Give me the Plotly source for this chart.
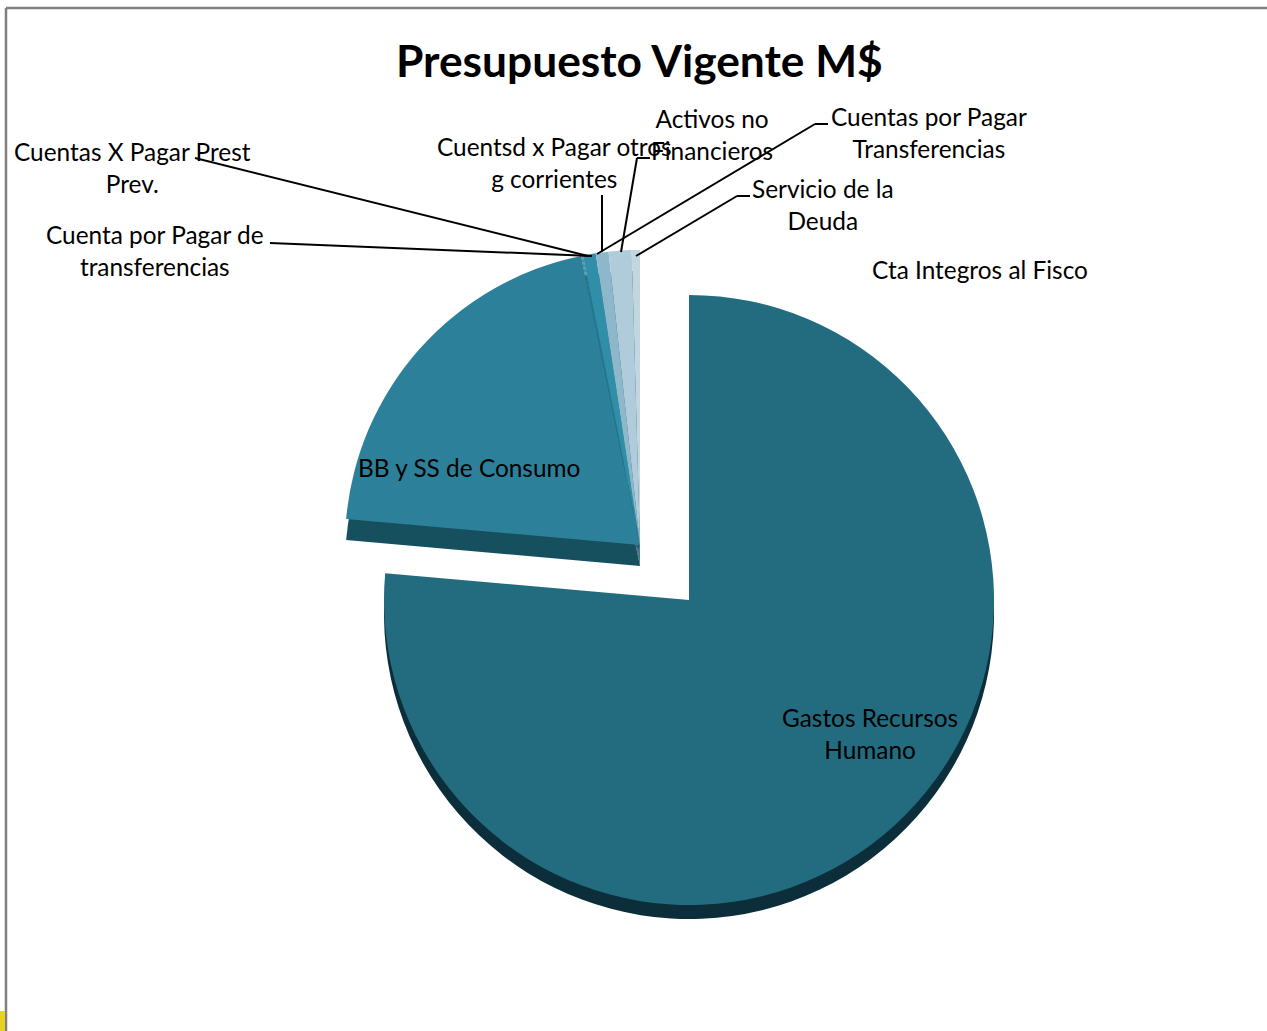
import plotly.graph_objects as go

W, H = 1267, 1031

categories = ["Gastos Recursos Humano", "BB y SS de Consumo", "Cuenta por Pagar de transferencias",
              "Cuentas X Pagar Prest Prev.", "Cuentas por Pagar Transferencias",
              "Cuentsd x Pagar otros g corrientes", "Activos no Financieros",
              "Servicio de la Deuda", "Cta Integros al Fisco"]
values = [76.4, 20.4, 0.05, 0.05, 0.7, 0.7, 1.25, 0.45, 0.0]
top_colors = ["#236c80", "#2c8099", "#2c8099", "#2c8099", "#2f8ea8", "#8db8cc", "#b0ccda", "#c2d6e0", "#d5e3ea"]
title_text = "Presupuesto Vigente M$"

CLEAR = "rgba(0,0,0,0)"
FONT = "Lato"


def domain(cx, cy, r):
    return dict(x=[(cx - r) / W, (cx + r) / W], y=[1 - (cy + r) / H, 1 - (cy - r) / H])


def pie(cx, cy, r, colors, name):
    return go.Pie(labels=categories, values=values, name=name, sort=False, direction="clockwise",
                  rotation=0, domain=domain(cx, cy, r), textinfo="none", hoverinfo="label+value",
                  showlegend=False, marker=dict(colors=colors, line=dict(width=0)))


main_only = [top_colors[0]] + [CLEAR] * 8
group_only = [CLEAR] + top_colors[1:]
fig = go.Figure([
    pie(689, 614, 305, ["#0c2e3a"] + [CLEAR] * 8, "main side"),
    pie(689, 600, 305, main_only, "main"),
    pie(640, 566, 295, [CLEAR] + ["#16505f"] * 8, "group side"),
    pie(640, 545, 295, group_only, "group"),
])

labels = [
    ("Cuentas X Pagar Prest<br>Prev.", 132, 167),
    ("Cuenta por Pagar de<br>transferencias", 155, 251),
    ("Cuentsd x Pagar otros<br>g corrientes", 554, 162),
    ("Activos no<br>Financieros", 712, 135),
    ("Cuentas por Pagar<br>Transferencias", 929, 132),
    ("Servicio de la<br>Deuda", 823, 205),
    ("Cta Integros al Fisco", 980, 269),
    ("BB y SS de Consumo", 469, 467),
    ("Gastos Recursos<br>Humano", 870, 733),
]
annotations = [dict(text=t, x=x / W, y=1 - y / H, xref="paper", yref="paper", showarrow=False,
                    xanchor="center", yanchor="middle", align="center",
                    font=dict(family=FONT, size=24.4, color="#000000")) for t, x, y in labels]
annotations.append(dict(text=title_text, x=639 / W, y=1 - 59 / H, xref="paper", yref="paper",
                        showarrow=False, xanchor="center", yanchor="middle",
                        font=dict(family=FONT, size=44.3, color="#000000", weight="bold")))

leaders = [
    [(195, 158), (588, 256)],
    [(270, 243), (592, 256)],
    [(602, 195), (602, 252)],
    [(650, 158), (637, 158), (621, 252)],
    [(828, 124), (815, 124), (597, 254)],
    [(750, 196), (737, 196), (636, 256)],
]


def seg_shape(p, q, color, width):
    return dict(type="line", xref="paper", yref="paper", x0=p[0] / W, y0=1 - p[1] / H,
                x1=q[0] / W, y1=1 - q[1] / H, line=dict(color=color, width=width))


shapes = []
for pts in leaders:
    for a, b in zip(pts, pts[1:]):
        shapes.append(seg_shape(a, b, "#000000", 2))
shapes.append(seg_shape((6, 8), (W, 8), "#808080", 2.5))
shapes.append(seg_shape((6, 8), (6, H), "#808080", 2.5))
shapes.append(dict(type="rect", xref="paper", yref="paper", x0=0, x1=5 / W, y0=0, y1=20 / H,
                   fillcolor="#e6d320", line=dict(width=0)))

fig.update_layout(width=W, height=H, margin=dict(l=0, r=0, t=0, b=0), paper_bgcolor="#ffffff",
                  plot_bgcolor="#ffffff", annotations=annotations, shapes=shapes, showlegend=False)
fig.write_html("out.html", config={"displayModeBar": False},
               post_script="document.body.style.margin='0';document.body.style.overflow='hidden';")
